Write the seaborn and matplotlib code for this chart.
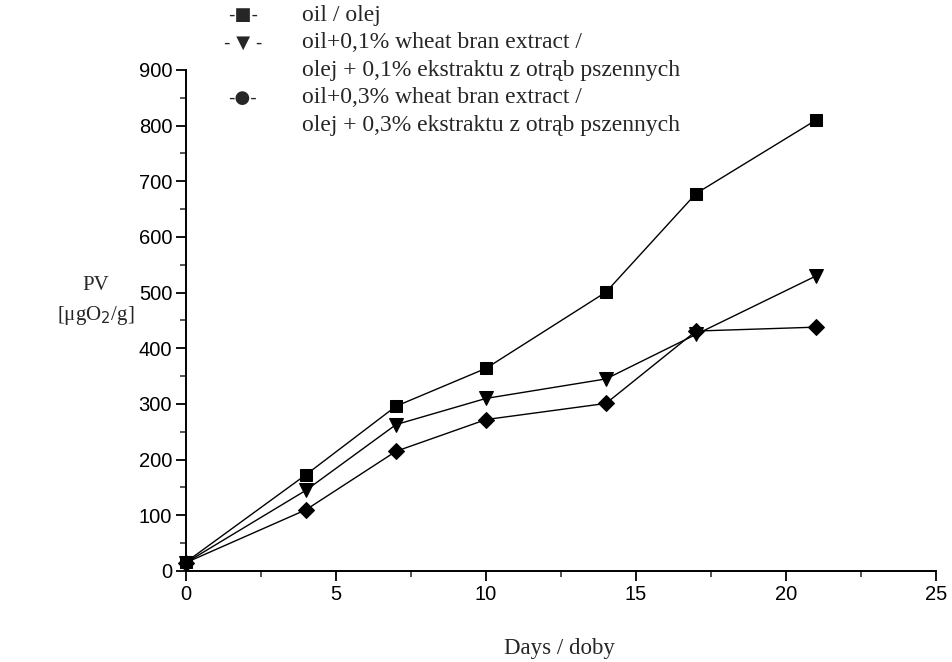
import matplotlib
matplotlib.use("Agg")
import matplotlib.pyplot as plt
import seaborn as sns
from matplotlib.ticker import MultipleLocator

# ── data ────────────────────────────────────────────────────────────────
days = [0, 4, 7, 10, 14, 17, 21]
pv_oil = [16, 173, 296, 364, 501, 678, 810]
pv_ext_01 = [15, 145, 263, 310, 345, 425, 530]
pv_ext_03 = [15, 110, 215, 272, 301, 431, 438]

legend_lines = [
    ("-■-", "oil / olej"),
    ("- ▼ -", "oil+0,1% wheat bran extract /"),
    ("", "olej + 0,1% ekstraktu z otrąb pszennych"),
    ("-●-", "oil+0,3% wheat bran extract /"),
    ("", "olej + 0,3% ekstraktu z otrąb pszennych"),
]

sns.set_style("ticks")
plt.rcParams["font.family"] = ["Liberation Sans", "DejaVu Sans"]

fig = plt.figure(figsize=(9.52, 6.62), dpi=100)
ax = fig.add_axes([0.1954, 0.1375, 0.7878, 0.7568])

for vals, mk, ms in [(pv_oil, "s", 9), (pv_ext_01, "v", 10), (pv_ext_03, "D", 8)]:
    sns.lineplot(x=days, y=vals, ax=ax, color="black", linewidth=1.0,
                 marker=mk, markersize=ms, markeredgecolor="black",
                 markerfacecolor="black", clip_on=False)

ax.set_xlim(0, 25)
ax.set_ylim(0, 900)
ax.xaxis.set_major_locator(MultipleLocator(5))
ax.xaxis.set_minor_locator(MultipleLocator(2.5))
ax.yaxis.set_major_locator(MultipleLocator(100))
ax.yaxis.set_minor_locator(MultipleLocator(50))
ax.tick_params(which="major", direction="out", length=7, width=1.3,
               labelsize=14.5, colors="black", pad=3)
ax.tick_params(which="minor", direction="out", length=4, width=1.1)
for side in ["top", "right"]:
    ax.spines[side].set_visible(False)
for side in ["left", "bottom"]:
    ax.spines[side].set_linewidth(1.4)
    ax.spines[side].set_color("black")
ax.set_xlabel("")
ax.set_ylabel("")

serif = ["Liberation Serif", "DejaVu Serif"]
fig.text(0.588, 0.021, "Days / doby", ha="center", va="center",
         fontsize=16.5, family=serif)
fig.text(0.101, 0.568, "PV", ha="center", va="center", fontsize=15, family=serif)
fig.text(0.101, 0.524, r"[μgO$_2$/g]", ha="center", va="center",
         fontsize=15, family=serif)

# hand-made legend at the top
y0 = 0.977
step = 0.0415
for i, (sym, label) in enumerate(legend_lines):
    y = y0 - i * step
    if sym:
        fig.text(0.255, y, sym, ha="center", va="center", fontsize=13,
                 family=["DejaVu Sans"])
    fig.text(0.317, y, label, ha="left", va="center", fontsize=17,
             family=serif)

plt.savefig("out.png", dpi=100)
plt.close()
